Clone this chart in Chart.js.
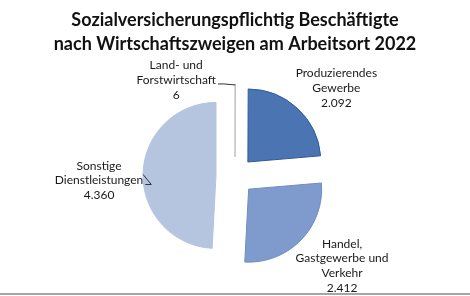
<!DOCTYPE html>
<html lang="de">
<head>
<meta charset="utf-8">
<title>Sozialversicherungspflichtig Beschäftigte 2022</title>
<script src="https://cdn.jsdelivr.net/npm/chart.js@4"></script>
<style>
  html, body { margin: 0; padding: 0; background: #fff; }
  #wrap { width: 470px; height: 296px; }
</style>
</head>
<body>
<div id="wrap"><canvas id="pieChart" width="470" height="296"></canvas></div>
<script>
// Wirtschaftszweige, im Uhrzeigersinn ab 12 Uhr
const branchen = [
    ['Land- und', 'Forstwirtschaft'],
    ['Produzierendes', 'Gewerbe'],
    ['Handel,', 'Gastgewerbe und', 'Verkehr'],
    ['Sonstige', 'Dienstleistungen']
];
const beschaeftigte = [6, 2092, 2412, 4360];
const wertLabels = ['6', '2.092', '2.412', '4.360'];

const fuellFarben = ['#ffffff', '#4a75b2', '#7f9bcd', '#b5c4df'];
const randFarben = ['#bfbfbf', '#2f5b96', '#6d8cc0', '#b5c4df'];

// wie weit die Segmente herausgezogen sind
const explodeShift = 19;
const lineH = 14.8;

// Beschriftung: Verschiebung der Blockmitte gegenüber dem Segmentrand
const labelNudge = [[-59, -4], [39, -20], [41, 26], [-44, 7]];
const hasLeader = [true, false, false, true];

// Segmente selbst verschoben zeichnen (offset in v4 vergrößert sonst den Radius)
const explodePlugin = {
    id: 'explode',
    beforeDatasetDraw(chart, args) {
        const ctx = chart.ctx;
        args.meta.data.forEach(arc => {
            const mid = (arc.startAngle + arc.endAngle) / 2;
            ctx.save();
            ctx.translate(Math.cos(mid) * explodeShift, Math.sin(mid) * explodeShift);
            arc.draw(ctx);
            ctx.restore();
        });
        return false;
    }
};

const labelPlugin = {
    id: 'sliceLabels',
    afterDraw(chart) {
        const ctx = chart.ctx;
        const arcs = chart.getDatasetMeta(0).data;
        ctx.save();
        ctx.font = '12px Lato';
        ctx.fillStyle = '#1a1a1a';
        ctx.strokeStyle = '#333';
        ctx.lineWidth = 1;
        ctx.textAlign = 'center';
        ctx.textBaseline = 'middle';
        arcs.forEach((arc, i) => {
            const mid = (arc.startAngle + arc.endAngle) / 2;
            const rr = arc.outerRadius + explodeShift;
            const ax = arc.x + Math.cos(mid) * rr;
            const ay = arc.y + Math.sin(mid) * rr;
            const lines = branchen[i].concat(wertLabels[i]);
            const cx = ax + labelNudge[i][0];
            const cy = ay + labelNudge[i][1];
            const top = cy - (lines.length - 1) * lineH / 2;
            lines.forEach((t, k) => ctx.fillText(t, cx, top + k * lineH));

            if (hasLeader[i]) {
                const sx = cx + ctx.measureText(lines[1]).width / 2 + 2;
                const sy = top + lineH + 4;
                ctx.beginPath();
                ctx.moveTo(sx, sy);
                ctx.lineTo(sx + 6, sy);
                ctx.lineTo(ax, ay + 1);
                ctx.stroke();
            }
        });
        // Rahmenlinie unten
        ctx.fillStyle = '#a6a6a6';
        ctx.fillRect(0, 293, chart.width, 2);
        ctx.restore();
    }
};

const ctx = document.getElementById('pieChart').getContext('2d');
const pieChart = new Chart(ctx, {
    type: 'pie',
    data: {
        labels: branchen,
        datasets: [{
            data: beschaeftigte,
            backgroundColor: fuellFarben,
            borderColor: randFarben,
            borderWidth: 1
        }]
    },
    options: {
        responsive: false,
        animation: false,
        radius: 73,
        layout: { padding: { left: 0, right: 0, top: 0, bottom: 2 } },
        plugins: {
            legend: { display: false },
            tooltip: { enabled: false },
            title: {
                display: true,
                text: ['Sozialversicherungspflichtig Beschäftigte', 'nach Wirtschaftszweigen am Arbeitsort 2022'],
                color: '#111',
                font: { family: 'Lato', size: 18, weight: 'bold', lineHeight: 1.33 },
                padding: { top: 8, bottom: 2 }
            }
        }
    },
    plugins: [explodePlugin, labelPlugin]
});
</script>
</body>
</html>
